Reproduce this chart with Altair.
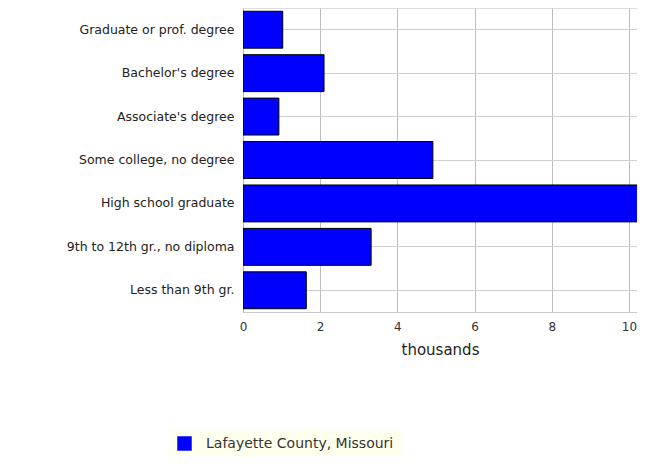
import altair as alt
import pandas as pd

categories = [
    "Graduate or prof. degree",
    "Bachelor's degree",
    "Associate's degree",
    "Some college, no degree",
    "High school graduate",
    "9th to 12th gr., no diploma",
    "Less than 9th gr.",
]
values = [1.03, 2.10, 0.93, 4.92, 10.5, 3.32, 1.64]
series = ["Lafayette County, Missouri"] * len(categories)
x_ticks = [0, 2, 4, 6, 8, 10]

df = pd.DataFrame({"category": categories, "value": values, "series": series})

font = "DejaVu Sans"

chart = alt.Chart(df).mark_bar(
    stroke="black", strokeWidth=1, clip=True
).encode(
    y=alt.Y(
        "category:N",
        sort=categories,
        scale=alt.Scale(paddingInner=0.15, paddingOuter=0.075),
        axis=alt.Axis(
            title=None,
            ticks=False,
            labelPadding=9,
            labelFont=font,
            labelFontSize=12.5,
            labelColor="#222",
            domainColor="#7ee07e",
            domainWidth=1,
            grid=True,
            gridColor="#cfcfcf",
            bandPosition=0.5,
            labelLimit=300,
        ),
    ),
    x=alt.X(
        "value:Q",
        scale=alt.Scale(domain=[0, 10.21], nice=False),
        axis=alt.Axis(
            title="thousands",
            values=x_ticks,
            format="d",
            ticks=False,
            labelPadding=9,
            labelFont=font,
            labelFontSize=12,
            labelColor="#333",
            titleFont=font,
            titleFontSize=15,
            titleFontWeight="normal",
            titleColor="#222",
            titlePadding=10,
            domainColor="#c8c8d0",
            gridColor="#bdbdbd",
            labelFlush=False,
        ),
    ),
    color=alt.Color(
        "series:N",
        scale=alt.Scale(range=["#0000ff"]),
        legend=alt.Legend(
            title=None,
            orient="none",
            legendX=-73,
            legendY=421,
            fillColor="#ffffee",
            padding=7,
            symbolType="square",
            symbolSize=210,
            symbolStrokeWidth=0,
            symbolOpacity=1,
            labelFont=font,
            labelFontSize=14,
            labelColor="#333",
            labelOffset=14,
            labelLimit=400,
        ),
    ),
).properties(
    width=394,
    height=304,
    autosize=alt.AutoSizeParams(type="none"),
    padding={"left": 235, "top": 0, "right": 0, "bottom": 144},
).configure_view(
    stroke="#dddddd"
).configure(background="white")

chart.save("out.html", embed_options={"renderer": "svg", "actions": False})
